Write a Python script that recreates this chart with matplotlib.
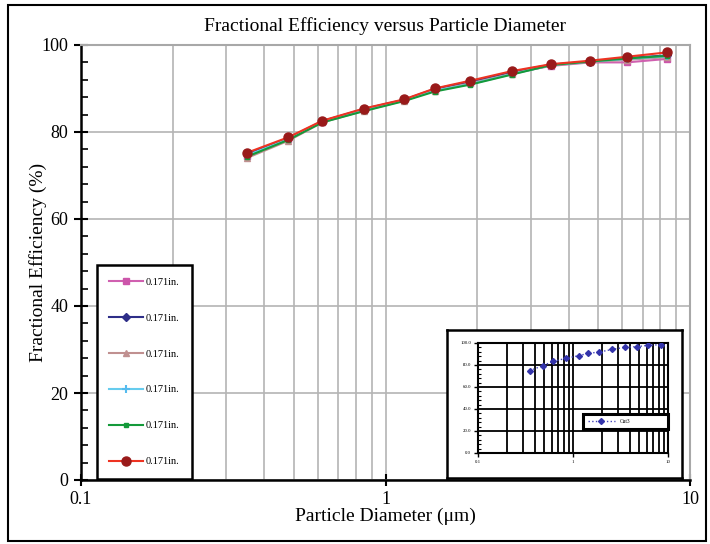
import numpy as np
import matplotlib
matplotlib.use("Agg")
import matplotlib.pyplot as plt
from matplotlib.patches import Rectangle
from matplotlib.ticker import MultipleLocator, LogLocator, NullFormatter

plt.rcParams['font.family'] = ['Liberation Serif', 'DejaVu Serif']

# particle diameters (um)
diam = [0.35, 0.48, 0.62, 0.85, 1.15, 1.45, 1.9, 2.6, 3.5, 4.7, 6.2, 8.4]

# fractional efficiency (%) per run, all labelled 0.171in.
eff_pink = [74.5, 78.3, 82.3, 85.0, 87.3, 89.6, 91.3, 93.5, 95.2, 96.0, 96.0, 96.8]
eff_navy = [75.0, 78.6, 82.5, 85.3, 87.4, 89.9, 91.6, 93.8, 95.5, 96.2, 97.0, 97.6]
eff_rose = [74.0, 78.0, 82.2, 84.9, 87.2, 89.5, 91.2, 93.4, 95.3, 96.1, 96.6, 97.2]
eff_cyan = [74.6, 78.4, 82.4, 85.1, 87.3, 89.5, 91.0, 93.3, 95.4, 96.2, 96.8, 97.4]
eff_green = [74.3, 78.2, 82.2, 84.8, 87.1, 89.3, 90.9, 93.2, 95.4, 96.2, 96.9, 97.5]
eff_red = [75.2, 78.8, 82.6, 85.4, 87.5, 90.0, 91.8, 94.0, 95.6, 96.4, 97.3, 98.3]
series_labels = ['0.171in.'] * 6

# small embedded chart
inset_eff = [74.8, 79.4, 83.3, 86.1, 88.5, 90.6, 91.8, 94.2, 96.1, 96.7, 97.9, 98.5]
inset_label = 'Cut3'

fig = plt.figure(figsize=(7.1, 5.44), dpi=100)

# outer frame of the picture
fig.patches.append(Rectangle((8 / 710, 3 / 544), 698 / 710, 536 / 544, transform=fig.transFigure,
                             fill=False, edgecolor='black', linewidth=1.5))

ax = fig.add_axes([81 / 710, 64 / 544, 609 / 710, 435 / 544])
ax.set_xscale('log')
ax.set_xlim(0.1, 10)
ax.set_ylim(0, 100)

styles = [
    (eff_pink, dict(color='#D060B0', marker='s', markersize=5, mfc='#CC55AA', mec='#CC55AA')),
    (eff_navy, dict(color='#2E2E88', marker='D', markersize=4, mfc='#2E2E88', mec='#2E2E88')),
    (eff_rose, dict(color='#C09090', marker='^', markersize=5, mfc='#C09090', mec='#C09090')),
    (eff_cyan, dict(color='#66CCEE', marker='+', markersize=6, mew=1.5, mfc='#55BBEE', mec='#55BBEE')),
    (eff_green, dict(color='#149A3A', marker='s', markersize=3.5, mfc='#149A3A', mec='#149A3A')),
    (eff_red, dict(color='#EE3322', marker='o', markersize=6.5, mfc='#991A1A', mec='#991A1A')),
]
for (vals, st), lab in zip(styles, series_labels):
    ax.plot(diam, vals, linewidth=1.5, label=lab, zorder=3, **st)

# grid: all log positions vertically, majors horizontally
ax.xaxis.set_minor_locator(LogLocator(base=10, subs=np.arange(2, 10)))
ax.xaxis.set_minor_formatter(NullFormatter())
ax.set_xticks([0.1, 1, 10])
ax.set_xticklabels(['0.1', '1', '10'])
ax.yaxis.set_major_locator(MultipleLocator(20))
ax.yaxis.set_minor_locator(MultipleLocator(4))
ax.grid(True, which='both', axis='x', color='#B4B4B4', linewidth=1.2)
ax.grid(True, which='major', axis='y', color='#B4B4B4', linewidth=1.2)
ax.set_axisbelow(True)

ax.tick_params(axis='x', which='major', direction='inout', length=8, width=1.5, labelsize=13, pad=4)
ax.tick_params(axis='x', which='minor', length=0)
ax.tick_params(axis='y', which='major', direction='inout', length=10, width=1.5, labelsize=13, pad=4)
ax.tick_params(axis='y', which='minor', direction='in', length=5, width=1.2)

for s in ['left', 'bottom']:
    ax.spines[s].set_color('black')
    ax.spines[s].set_linewidth(1.8)
for s in ['top', 'right']:
    ax.spines[s].set_color('#A8A8A8')
    ax.spines[s].set_linewidth(1.5)

ax.set_title('Fractional Efficiency versus Particle Diameter', fontsize=14, pad=10)
ax.set_xlabel('Particle Diameter (\u03bcm)', fontsize=14, labelpad=0)
ax.set_ylabel('Fractional Efficiency (%)', fontsize=14, labelpad=-4)

leg = ax.legend(loc='lower left', bbox_to_anchor=(0.026, 0.003), fontsize=7.5,
                handlelength=3.2, labelspacing=2.55, borderpad=1.2, handletextpad=0.3,
                borderaxespad=0, fancybox=False, framealpha=1)
leg.get_frame().set_edgecolor('black')
leg.get_frame().set_linewidth(1.8)
leg.set_zorder(5)

# embedded small chart with its own frame
box = fig.add_axes([447 / 710, 66 / 544, 235 / 710, 148 / 544])
box.set_xticks([])
box.set_yticks([])
box.set_facecolor('white')
for s in box.spines.values():
    s.set_color('black')
    s.set_linewidth(1.8)
box.set_zorder(6)

ins = fig.add_axes([478 / 710, 91 / 544, 190 / 710, 110 / 544])
ins.set_zorder(7)
ins.set_xscale('log')
ins.set_xlim(0.1, 10)
ins.set_ylim(0, 100)
ins.plot(diam, inset_eff, color='#4444BB', linestyle=':', linewidth=1.0, marker='D',
         markersize=3, mfc='#3333AA', mec='#3333AA', label=inset_label, zorder=3)
ins.set_xticks([0.1, 1, 10])
ins.set_xticklabels(['0.1', '1', '10'])
ins.xaxis.set_minor_locator(LogLocator(base=10, subs=np.arange(2, 10)))
ins.xaxis.set_minor_formatter(NullFormatter())
ins.yaxis.set_major_locator(MultipleLocator(20))
ins.yaxis.set_minor_locator(MultipleLocator(4))
ins.set_yticklabels(['%.1f' % v for v in ins.get_yticks()])
ins.grid(True, which='both', axis='x', color='black', linewidth=1.3)
ins.grid(True, which='major', axis='y', color='black', linewidth=1.3)
ins.set_axisbelow(True)
ins.tick_params(axis='both', which='major', labelsize=3.5, length=3, width=1, pad=2)
ins.tick_params(axis='x', which='minor', length=0)
ins.tick_params(axis='y', which='minor', direction='in', length=2, width=0.8)
for s in ins.spines.values():
    s.set_color('black')
    s.set_linewidth(1.5)
ileg = ins.legend(loc='lower left', bbox_to_anchor=(0.55, 0.22, 0.45, 0.16), mode='expand',
                  fontsize=4, handlelength=5, borderpad=0.9, borderaxespad=0,
                  fancybox=False, framealpha=1)
ileg.get_frame().set_edgecolor('black')
ileg.get_frame().set_linewidth(2.2)

fig.savefig('out.png', dpi=100)
